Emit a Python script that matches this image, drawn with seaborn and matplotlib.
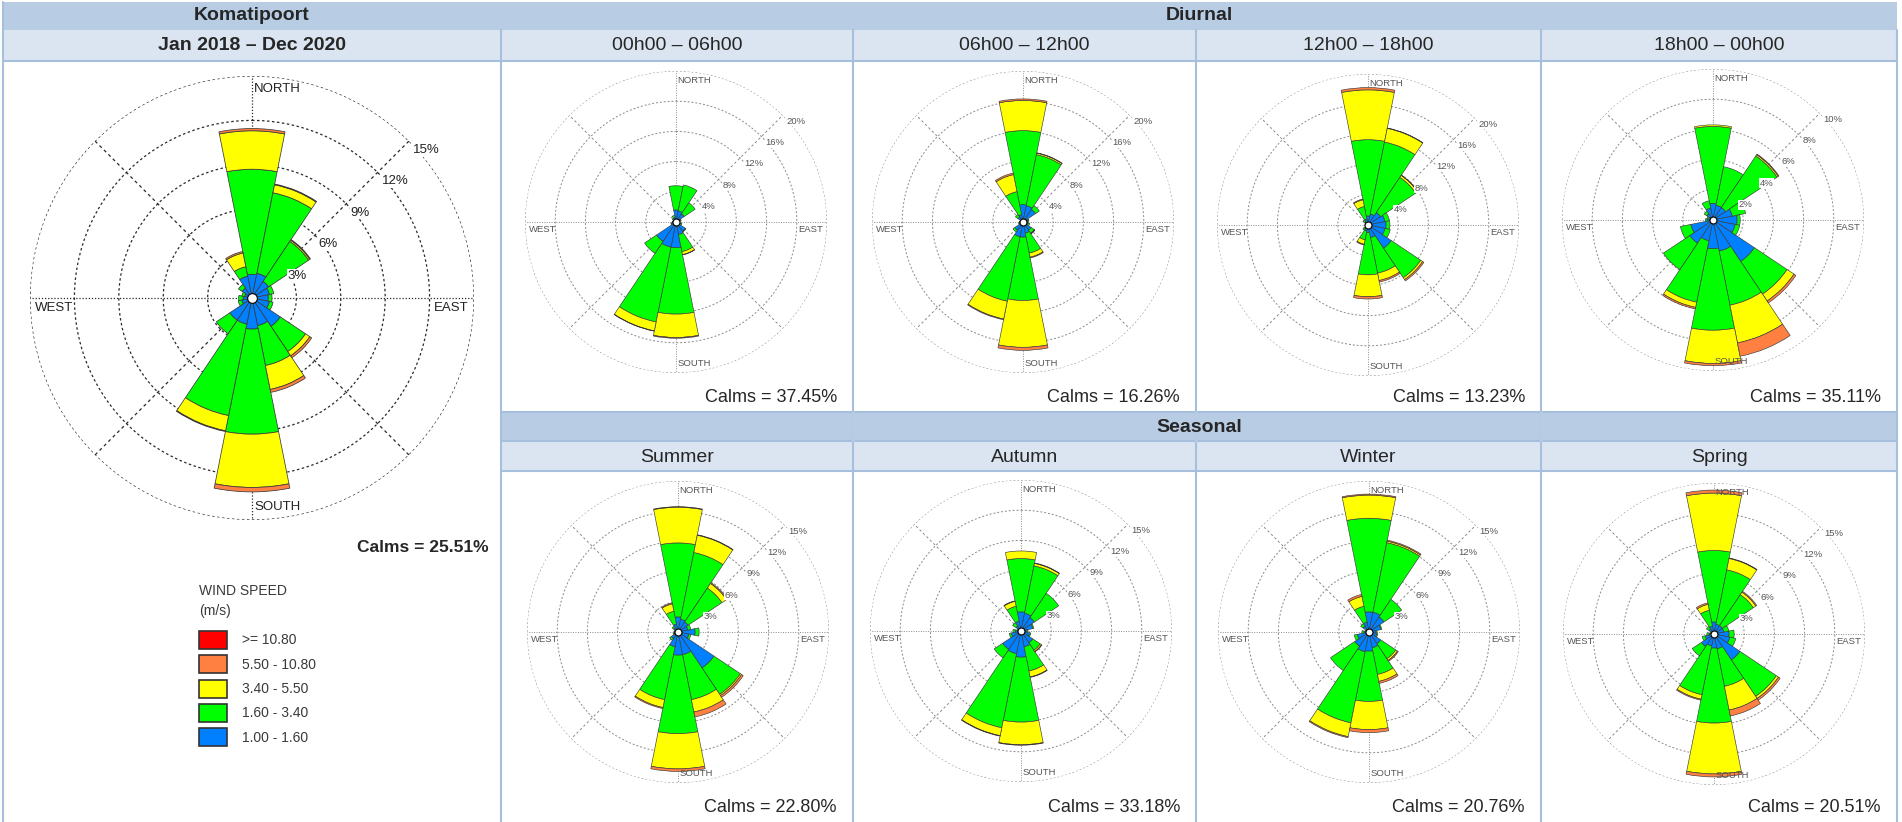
import numpy as np
import matplotlib
matplotlib.use('Agg')
import matplotlib.pyplot as plt
from matplotlib.patches import Rectangle
from matplotlib.lines import Line2D
import seaborn as sns

W, H = 1902, 822

directions = ['N', 'NNE', 'NE', 'ENE', 'E', 'ESE', 'SE', 'SSE',
              'S', 'SSW', 'SW', 'WSW', 'W', 'WNW', 'NW', 'NNW']
speed_labels = ['>= 10.80', '5.50 - 10.80', '3.40 - 5.50', '1.60 - 3.40', '1.00 - 1.60']
speed_colors = ['#FF0000', '#FF8040', '#FFFF00', '#00FF00', '#0080FF']

diurnal_titles = ['00h00 \u2013 06h00', '06h00 \u2013 12h00', '12h00 \u2013 18h00', '18h00 \u2013 00h00']
season_titles = ['Summer', 'Autumn', 'Winter', 'Spring']
calms_period = 25.51
calms_diurnal = [37.45, 16.26, 13.23, 35.11]
calms_season = [22.80, 33.18, 20.76, 20.51]
rings_period = [3, 6, 9, 12, 15]
rings_diurnal = [[4, 8, 12, 16, 20], [4, 8, 12, 16, 20], [4, 8, 12, 16, 20], [2, 4, 6, 8, 10]]
rings_season = [3, 6, 9, 12, 15]

# cumulative frequency (%) at the top of each class: 1.0-1.6, 1.6-3.4, 3.4-5.5, 5.5-10.8 m/s
period_rose = [[1.6, 8.7, 11.3, 11.45], [1.7, 7.25, 7.8, 7.85], [1.35, 4.6, 4.7, 4.75], [1.2, 1.5, 1.5, 1.5],
               [1.1, 1.35, 1.35, 1.35], [1.2, 1.45, 1.45, 1.45], [2.3, 4.35, 4.7, 4.85], [1.9, 4.65, 6.3, 6.5],
               [2.1, 9.2, 12.8, 13.1], [1.8, 8.1, 9.15, 9.2], [1.8, 2.9, 2.9, 2.9], [0.7, 0.95, 0.95, 0.95],
               [0.6, 0.9, 0.9, 0.9], [0.5, 0.7, 0.7, 0.7], [0.8, 1.1, 1.1, 1.1], [1.5, 2.15, 3.1, 3.2]]

rose_00_06 = [[1.6, 4.8, 4.8, 4.8], [1.5, 5.0, 5.0, 5.0], [1.3, 3.05, 3.05, 3.05], [0.6, 0.7, 0.7, 0.7],
              [0.4, 0.5, 0.5, 0.5], [0.6, 0.8, 0.8, 0.8], [1.5, 1.6, 1.6, 1.6], [1.7, 4.0, 4.4, 4.45],
              [3.4, 12.2, 15.3, 15.4], [3.4, 13.5, 14.7, 14.75], [3.1, 5.0, 5.0, 5.0], [0.6, 0.7, 0.7, 0.7],
              [0.4, 0.5, 0.5, 0.5], [0.3, 0.4, 0.4, 0.4], [0.4, 0.6, 0.6, 0.6], [0.6, 0.9, 0.9, 0.9]]

rose_06_12 = [[2.3, 12.1, 16.1, 16.3], [2.2, 9.1, 9.3, 9.35], [2.0, 2.6, 2.6, 2.6], [0.7, 0.8, 0.8, 0.8],
              [0.6, 0.7, 0.7, 0.7], [0.7, 0.9, 0.9, 0.9], [1.3, 1.8, 1.85, 1.9], [1.5, 4.2, 4.75, 4.85],
              [2.0, 10.4, 16.6, 17.0], [2.0, 10.7, 13.1, 13.2], [1.3, 1.6, 1.6, 1.6], [0.5, 0.6, 0.6, 0.6],
              [0.4, 0.5, 0.5, 0.5], [0.3, 0.4, 0.4, 0.4], [0.8, 1.2, 1.2, 1.2], [1.0, 4.1, 6.4, 6.6]]

rose_12_18 = [[1.2, 11.3, 17.9, 18.2], [1.5, 11.2, 13.05, 13.1], [2.0, 7.6, 7.9, 7.95], [2.3, 2.9, 2.9, 2.9],
              [2.4, 2.9, 2.9, 2.9], [2.3, 3.0, 3.0, 3.0], [3.7, 8.4, 8.7, 8.9], [1.7, 6.5, 7.5, 7.7],
              [1.0, 6.6, 9.5, 9.8], [0.8, 2.0, 2.6, 2.7], [0.6, 0.8, 0.8, 0.8], [0.3, 0.4, 0.4, 0.4],
              [0.3, 0.4, 0.4, 0.4], [0.3, 0.4, 0.4, 0.4], [0.5, 0.8, 0.8, 0.8], [0.8, 2.5, 3.4, 3.5]]

rose_18_00 = [[1.1, 6.2, 6.3, 6.3], [1.0, 3.6, 3.6, 3.6], [1.0, 5.1, 5.2, 5.25], [1.3, 2.2, 2.2, 2.2],
              [1.6, 1.8, 1.8, 1.8], [1.5, 1.8, 1.8, 1.8], [3.3, 5.9, 6.45, 6.6], [2.1, 5.75, 8.3, 9.2],
              [1.9, 7.3, 9.5, 9.65], [1.4, 5.55, 5.9, 6.0], [1.85, 3.95, 3.95, 3.95], [1.5, 2.2, 2.2, 2.2],
              [0.4, 0.5, 0.5, 0.5], [0.3, 0.4, 0.4, 0.4], [0.5, 0.7, 0.7, 0.7], [0.8, 1.3, 1.3, 1.3]]

rose_summer = [[1.5, 8.85, 12.4, 12.45], [1.3, 8.05, 9.8, 9.85], [1.2, 5.25, 5.8, 5.9], [1.0, 1.3, 1.3, 1.3],
               [1.7, 2.1, 2.1, 2.1], [1.1, 1.3, 1.3, 1.3], [4.3, 7.45, 7.6, 7.8], [2.3, 6.85, 8.1, 8.6],
               [2.3, 10.1, 13.6, 13.85], [1.5, 6.85, 7.65, 7.75], [0.8, 1.0, 1.0, 1.0], [0.4, 0.5, 0.5, 0.5],
               [0.3, 0.4, 0.4, 0.4], [0.3, 0.4, 0.4, 0.4], [0.5, 0.7, 0.7, 0.7], [0.8, 2.1, 2.85, 2.95]]

rose_autumn = [[1.9, 7.2, 7.95, 7.95], [1.8, 6.6, 6.85, 6.9], [1.6, 4.5, 4.5, 4.5], [1.2, 1.3, 1.3, 1.3],
               [0.6, 0.7, 0.7, 0.7], [0.9, 1.0, 1.0, 1.0], [1.4, 2.3, 2.45, 2.5], [1.6, 4.05, 4.65, 4.7],
               [2.6, 9.05, 11.3, 11.35], [2.3, 9.8, 10.6, 10.65], [2.2, 3.2, 3.2, 3.2], [1.0, 1.2, 1.2, 1.2],
               [0.6, 0.8, 0.8, 0.8], [0.3, 0.4, 0.4, 0.4], [0.6, 1.0, 1.0, 1.0], [1.0, 2.5, 3.0, 3.05]]

rose_winter = [[2.0, 11.3, 13.6, 13.7], [2.0, 9.05, 9.2, 9.3], [1.8, 3.9, 3.9, 3.9], [1.2, 1.3, 1.3, 1.3],
               [0.7, 0.8, 0.8, 0.8], [0.8, 0.9, 0.9, 0.9], [1.4, 3.2, 3.4, 3.5], [1.6, 4.3, 5.0, 5.2],
               [1.9, 6.9, 9.7, 10.0], [2.0, 9.2, 10.6, 10.7], [1.7, 4.6, 4.6, 4.6], [1.2, 1.5, 1.5, 1.5],
               [0.5, 0.7, 0.7, 0.7], [0.3, 0.4, 0.4, 0.4], [0.7, 1.0, 1.0, 1.0], [1.0, 2.6, 3.6, 3.8]]

rose_spring = [[1.2, 8.3, 14.0, 14.3], [1.0, 6.5, 7.65, 7.7], [1.0, 4.7, 5.0, 5.1], [1.0, 1.5, 1.5, 1.5],
               [1.5, 2.0, 2.0, 2.0], [1.6, 2.2, 2.2, 2.2], [3.1, 7.45, 7.7, 7.9], [1.5, 5.3, 7.7, 8.3],
               [1.4, 8.85, 13.9, 14.2], [1.2, 6.15, 6.6, 6.7], [1.5, 2.6, 2.6, 2.6], [0.9, 1.2, 1.2, 1.2],
               [0.5, 0.7, 0.7, 0.7], [0.3, 0.4, 0.4, 0.4], [0.6, 0.9, 0.9, 0.9], [0.8, 2.4, 3.0, 3.15]]

diurnal_roses = [rose_00_06, rose_06_12, rose_12_18, rose_18_00]
season_roses = [rose_summer, rose_autumn, rose_winter, rose_spring]

sns.set_theme(style='white')
plt.rcParams['font.family'] = ['Liberation Sans', 'DejaVu Sans']

HEAD_DARK = '#B8CCE4'
HEAD_LIGHT = '#DBE5F1'
BORDER = '#A6BFDC'

fig = plt.figure(figsize=(W / 100, H / 100), dpi=100)
fig.patch.set_facecolor('white')


def frect(x0, y0, x1, y1):
    return [x0 / W, 1 - y1 / H, (x1 - x0) / W, (y1 - y0) / H]


def fbox(x0, y0, x1, y1, color):
    fig.add_artist(Rectangle((x0 / W, 1 - y1 / H), (x1 - x0) / W, (y1 - y0) / H,
                             transform=fig.transFigure, facecolor=color, edgecolor='none', zorder=0))


def fline(x0, y0, x1, y1, color=BORDER, lw=1.5):
    fig.add_artist(Line2D([x0 / W, x1 / W], [1 - y0 / H, 1 - y1 / H], transform=fig.transFigure,
                          color=color, lw=lw, zorder=1))


def ftext(x, y, s, **kw):
    fig.text(x / W, 1 - y / H, s, **kw)


# table bands
fbox(3, 2, 1897, 30, HEAD_DARK)
fbox(3, 30, 1897, 61, HEAD_LIGHT)
fbox(501, 412, 1897, 441, HEAD_DARK)
fbox(501, 441, 1897, 471, HEAD_LIGHT)

col_x = [501, 853, 1196, 1541, 1897]
for x in col_x:
    fline(x, 30, x, 822)
fline(3, 2, 3, 822)
for y in [61, 412, 441, 471]:
    fline(3 if y == 61 else 501, y, 1897, y)
for x in col_x[1:-1]:
    fline(x, 412, x, 441, color=HEAD_DARK, lw=2)

ftext(252, 16, 'Komatipoort', ha='center', va='center', fontsize=14, fontweight='bold')
ftext(252, 46, 'Jan 2018 \u2013 Dec 2020', ha='center', va='center', fontsize=14, fontweight='bold')
ftext(1199, 16, 'Diurnal', ha='center', va='center', fontsize=14, fontweight='bold')
ftext(1199, 427, 'Seasonal', ha='center', va='center', fontsize=14, fontweight='bold')
for i in range(4):
    xc = (col_x[i] + col_x[i + 1]) / 2
    ftext(xc, 46, diurnal_titles[i], ha='center', va='center', fontsize=14)
    ftext(xc, 457, season_titles[i], ha='center', va='center', fontsize=14)


def draw_rose(cx, cy, R, rose, rings, big=False):
    ax = fig.add_axes(frect(cx - R, cy - R, cx + R, cy + R), projection='polar')
    ax.set_facecolor('none')
    ax.set_theta_zero_location('N')
    ax.set_theta_direction(-1)
    rmax = rings[-1]
    ax.set_ylim(0, rmax)
    ax.grid(False)
    ax.set_xticks([])
    ax.set_yticks([])
    ax.spines['polar'].set_visible(False)

    gcol = '#2a2a2a' if big else '#8a8a8a'
    glw = 0.9 if big else 0.7
    tcol = '#222222' if big else '#555555'
    circ = np.linspace(0, 2 * np.pi, 400)
    for r in rings:
        ax.plot(circ, np.full_like(circ, r), color=gcol, lw=glw, ls=(0, (2, 2)), zorder=1)
    for a in range(8):
        ang = np.deg2rad(a * 45)
        ls = (0, (1, 1.5)) if a % 2 == 0 else (0, (2.5, 2.5))
        ax.plot([ang, ang], [0, rmax], color=gcol, lw=glw, ls=ls, zorder=1)

    cum = np.array(rose)
    theta = np.deg2rad(np.arange(len(directions)) * 22.5)
    bottoms = np.column_stack([np.zeros(len(cum)), cum[:, :-1]])
    class_colors = [speed_colors[4], speed_colors[3], speed_colors[2], speed_colors[1]]
    for k in range(4):
        h = cum[:, k] - bottoms[:, k]
        m = h > 0
        ax.bar(theta[m], h[m], width=2 * np.pi / 16, bottom=bottoms[m, k], color=class_colors[k],
               edgecolor='#3a3a3a', lw=0.55 if big else 0.45, align='center', zorder=3)

    ax.plot([0], [0], 'o', ms=7 if big else 5, mfc='white', mec='black', mew=0.8, zorder=6, clip_on=False)

    fs = 9.5 if big else 6.8
    for t in rings:
        ax.annotate(f'{t}%', xy=(np.pi / 4, t), xytext=(4, -9 if big else -6), textcoords='offset pixels',
                    ha='left', va='center', fontsize=fs, color=tcol, zorder=7,
                    bbox=dict(boxstyle='square,pad=0.05', fc='white', ec='none'))
    dfs = 9.5 if big else 6.8
    ax.text(0.505, 0.985, 'NORTH', transform=ax.transAxes, ha='left', va='top', fontsize=dfs, color=tcol)
    ax.text(0.505, 0.015, 'SOUTH', transform=ax.transAxes, ha='left', va='bottom', fontsize=dfs, color=tcol)
    ax.text(0.012, 0.49, 'WEST', transform=ax.transAxes, ha='left', va='top', fontsize=dfs, color=tcol)
    ax.text(0.988, 0.49, 'EAST', transform=ax.transAxes, ha='right', va='top', fontsize=dfs, color=tcol)
    return ax


# main period rose
draw_rose(252, 298, 222, period_rose, rings_period, big=True)
ftext(489, 548, f'Calms = {calms_period:.2f}%', ha='right', va='center', fontsize=12.5, fontweight='bold')

diurnal_centres = [(676, 222), (1023, 222), (1368, 225), (1713, 220)]
season_centres = [(678, 632), (1021, 631), (1369, 632), (1714, 634)]
for i in range(4):
    cx, cy = diurnal_centres[i]
    draw_rose(cx, cy, 151, diurnal_roses[i], rings_diurnal[i])
    ftext(col_x[i + 1] - 16, 397, f'Calms = {calms_diurnal[i]:.2f}%', ha='right', va='center', fontsize=13)
    cx, cy = season_centres[i]
    draw_rose(cx, cy, 151, season_roses[i], rings_season)
    ftext(col_x[i + 1] - 16, 807, f'Calms = {calms_season[i]:.2f}%', ha='right', va='center', fontsize=13)

# legend
ftext(199, 591, 'WIND SPEED', ha='left', va='center', fontsize=10, color='#3a3a3a')
ftext(199, 611, '(m/s)', ha='left', va='center', fontsize=10, color='#3a3a3a')
for i, (lab, col) in enumerate(zip(speed_labels, speed_colors)):
    y0 = 631 + i * 24.3
    fig.add_artist(Rectangle((199 / W, 1 - (y0 + 18) / H), 28 / W, 18 / H, transform=fig.transFigure,
                             facecolor=col, edgecolor='#333333', lw=1.2, zorder=2))
    ftext(242, y0 + 9.5, lab, ha='left', va='center', fontsize=10, color='#3a3a3a')

fig.savefig('out.png', dpi=100, facecolor='white')
